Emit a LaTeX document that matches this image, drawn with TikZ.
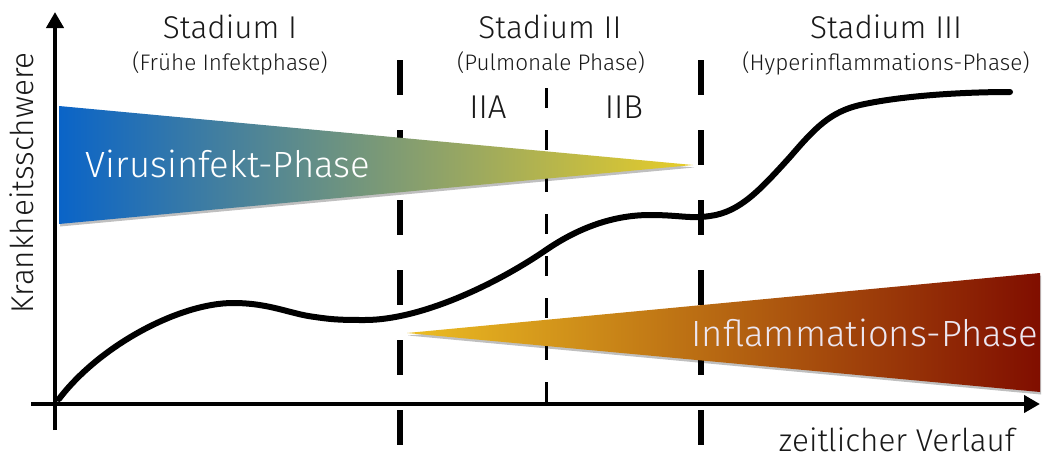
\documentclass[tikz,border=0pt]{standalone}
\usepackage{fontspec}
\setmainfont{Fira Sans}[UprightFont={* Light}]
\usetikzlibrary{arrows.meta,shadows}
\definecolor{txt}{RGB}{25,25,25}
\definecolor{vblue}{RGB}{10,100,200}
\definecolor{vmid}{RGB}{120,158,110}
\definecolor{vyel}{RGB}{232,205,40}
\definecolor{iyel}{RGB}{236,190,35}
\definecolor{imid}{RGB}{200,122,30}
\definecolor{ired}{RGB}{128,14,0}
\definecolor{itext}{RGB}{236,230,240}
\tikzset{
  bigdash/.style={line width=6.5pt, dash pattern=on 35pt off 35pt},
  smalldash/.style={line width=3pt, dash pattern=on 20pt off 22pt},
  axisline/.style={line width=4.5pt, -{Triangle[length=16pt,width=17pt]}},
  curveline/.style={line width=6pt, line cap=round},
  phaseshadow/.style={drop shadow={shadow xshift=1pt, shadow yshift=-2.5pt, opacity=0.25, fill=black}},
  stage/.style={text=txt, anchor=base, font=\fontsize{31.5}{34}\selectfont, inner sep=0pt},
  sub/.style={text=txt, anchor=base, font=\fontsize{22.5}{25}\selectfont, inner sep=0pt},
  sublab/.style={text=txt, anchor=base, font=\fontsize{33}{36}\selectfont, inner sep=0pt},
  phase/.style={anchor=base, font=\fontsize{36.5}{40}\selectfont, inner sep=0pt},
  axlab/.style={text=txt, anchor=base, font=\fontsize{31.5}{34}\selectfont, inner sep=0pt}
}
\begin{document}
\begin{tikzpicture}[x=1pt,y=-1pt]
\useasboundingbox[fill=white] (0,0) rectangle (1042,458);

% stage separators
\coordinate (s1t) at (400,60);  \coordinate (s1b) at (400,450);
\coordinate (s2t) at (701,60);  \coordinate (s2b) at (701,450);
\coordinate (mt) at (546,88);   \coordinate (mb) at (546,404);
\draw[bigdash] (s1t) -- (s1b);
\draw[bigdash] (s2t) -- (s2b);
\draw[smalldash] (mt) -- (mb);

% phases
\shade[left color=vblue, middle color=vmid, right color=vyel, phaseshadow]
  (59,106) -- (693,165) -- (59,224) -- cycle;
\shade[left color=iyel, middle color=imid, right color=ired, phaseshadow]
  (407,333) -- (1040,273) -- (1040,392) -- cycle;

% severity curve
\draw[curveline] (59,399)
  .. controls (100,345) and (180,303) .. (233,303)
  .. controls (270,303) and (290,314) .. (315,317)
  .. controls (335,320) and (345,320) .. (365,320)
  .. controls (420,320) and (495,285) .. (546,250)
  .. controls (580,226.7) and (615,215) .. (650,215)
  .. controls (680,215) and (690,219) .. (710,216)
  .. controls (740,212) and (760,190) .. (790,157)
  .. controls (815,128) and (830,112) .. (860,105)
  .. controls (900,96) and (960,92) .. (1010,92);

% axes
\coordinate (o) at (55,404);
\coordinate (ybot) at (55,430);
\coordinate (ytop) at (55,12);
\coordinate (xl) at (31,404);
\coordinate (xr) at (1040,404);
\draw[axisline] (ybot) -- (ytop);
\draw[axisline] (xl) -- (xr);

% texts
\node[stage] (st1) at (230,38) {Stadium I};
\node[sub] (sb1) at (230,70) {(Frühe Infektphase)};
\node[stage] (st2) at (550,38) {Stadium II};
\node[sub] (sb2) at (551,70) {(Pulmonale Phase)};
\node[stage] (st3) at (886,38) {Stadium III};
\node[sub] (sb3) at (886,70) {(Hyperinflammations-Phase)};
\node[sublab] (iia) at (488,118) {IIA};
\node[sublab] (iib) at (624,118) {IIB};
\node[phase, text=white] (vp) at (228,177) {Virusinfekt-Phase};
\node[phase, text=itext] (ip) at (865,346) {Inflammations-Phase};
\node[axlab] (xlab) at (897,451) {zeitlicher Verlauf};
\node[axlab, rotate=90] (ylab) at (33,183) {Krankheitsschwere};
\end{tikzpicture}
\end{document}
